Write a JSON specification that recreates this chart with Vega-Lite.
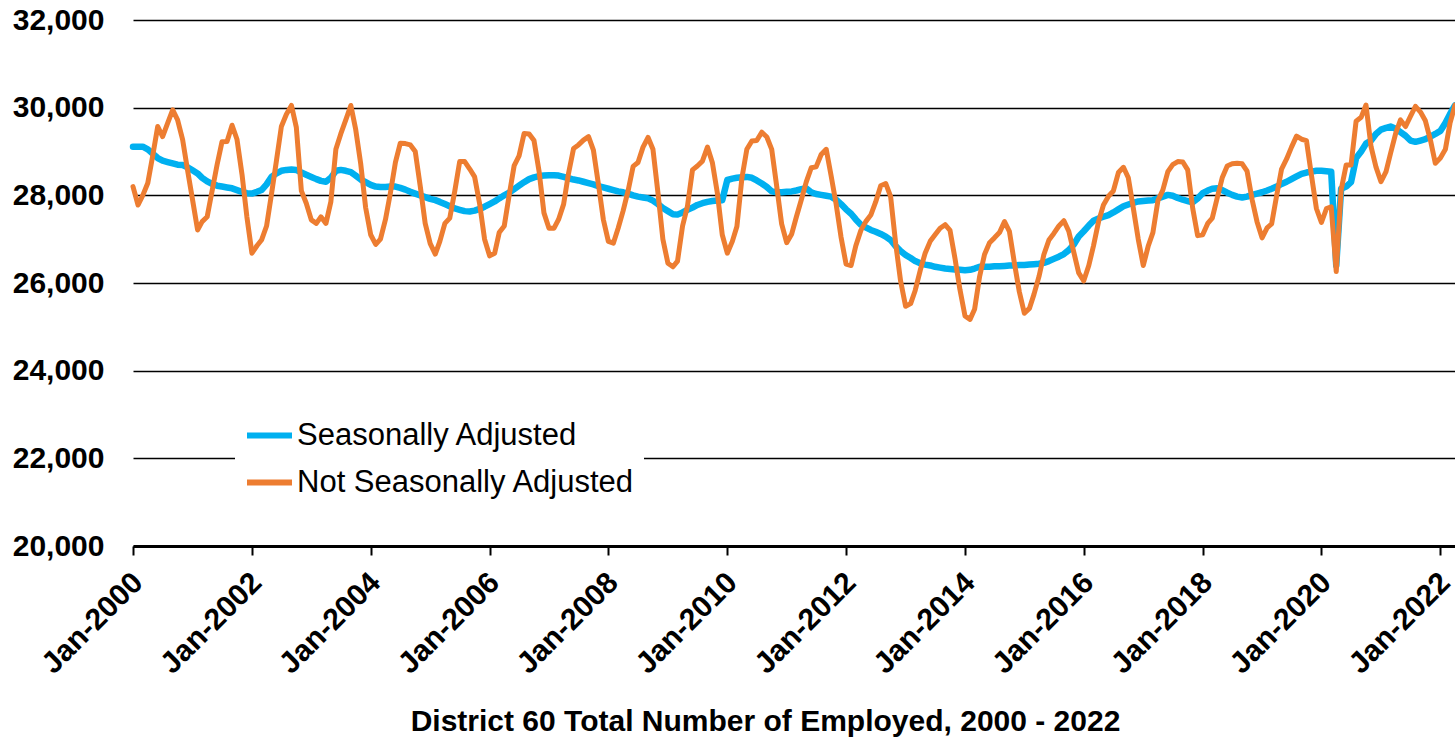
{
"$schema":"https://vega.github.io/schema/vega-lite/v6.json",
"width":1322,"height":526,
"autosize":{"type":"none"},
"padding":{"left":133,"top":20,"right":0,"bottom":192},
"background":"white",
"config":{"view":{"stroke":null},"font":"Liberation Sans"},
"data":{"format":{"parse":{"d":"utc:'%Y-%m'"}},"values":[
{"d":"2000-01","sa":29110,"nsa":28200},{"d":"2000-02","sa":29110,"nsa":27780},{"d":"2000-03","sa":29110,"nsa":28000},{"d":"2000-04","sa":29050,"nsa":28280},{"d":"2000-05","sa":28950,"nsa":28900},{"d":"2000-06","sa":28850,"nsa":29570},{"d":"2000-07","sa":28790,"nsa":29340},{"d":"2000-08","sa":28760,"nsa":29650},{"d":"2000-09","sa":28730,"nsa":29950},{"d":"2000-10","sa":28700,"nsa":29720},{"d":"2000-11","sa":28690,"nsa":29270},{"d":"2000-12","sa":28640,"nsa":28580},
{"d":"2001-01","sa":28570,"nsa":27900},{"d":"2001-02","sa":28500,"nsa":27210},{"d":"2001-03","sa":28400,"nsa":27400},{"d":"2001-04","sa":28320,"nsa":27510},{"d":"2001-05","sa":28260,"nsa":28100},{"d":"2001-06","sa":28220,"nsa":28700},{"d":"2001-07","sa":28200,"nsa":29220},{"d":"2001-08","sa":28180,"nsa":29230},{"d":"2001-09","sa":28160,"nsa":29600},{"d":"2001-10","sa":28120,"nsa":29280},{"d":"2001-11","sa":28080,"nsa":28480},{"d":"2001-12","sa":28050,"nsa":27510},
{"d":"2002-01","sa":28040,"nsa":26680},{"d":"2002-02","sa":28080,"nsa":26850},{"d":"2002-03","sa":28120,"nsa":26980},{"d":"2002-04","sa":28250,"nsa":27300},{"d":"2002-05","sa":28420,"nsa":28020},{"d":"2002-06","sa":28500,"nsa":28800},{"d":"2002-07","sa":28560,"nsa":29570},{"d":"2002-08","sa":28580,"nsa":29850},{"d":"2002-09","sa":28590,"nsa":30050},{"d":"2002-10","sa":28580,"nsa":29550},{"d":"2002-11","sa":28520,"nsa":28100},{"d":"2002-12","sa":28470,"nsa":27820},
{"d":"2003-01","sa":28420,"nsa":27440},{"d":"2003-02","sa":28370,"nsa":27360},{"d":"2003-03","sa":28330,"nsa":27510},{"d":"2003-04","sa":28310,"nsa":27360},{"d":"2003-05","sa":28400,"nsa":27850},{"d":"2003-06","sa":28560,"nsa":29050},{"d":"2003-07","sa":28580,"nsa":29400},{"d":"2003-08","sa":28560,"nsa":29720},{"d":"2003-09","sa":28530,"nsa":30050},{"d":"2003-10","sa":28450,"nsa":29500},{"d":"2003-11","sa":28360,"nsa":28710},{"d":"2003-12","sa":28300,"nsa":27720},
{"d":"2004-01","sa":28240,"nsa":27100},{"d":"2004-02","sa":28200,"nsa":26880},{"d":"2004-03","sa":28190,"nsa":27000},{"d":"2004-04","sa":28190,"nsa":27450},{"d":"2004-05","sa":28200,"nsa":28050},{"d":"2004-06","sa":28200,"nsa":28750},{"d":"2004-07","sa":28170,"nsa":29190},{"d":"2004-08","sa":28130,"nsa":29180},{"d":"2004-09","sa":28080,"nsa":29150},{"d":"2004-10","sa":28040,"nsa":29000},{"d":"2004-11","sa":28000,"nsa":28200},{"d":"2004-12","sa":27960,"nsa":27360},
{"d":"2005-01","sa":27920,"nsa":26900},{"d":"2005-02","sa":27890,"nsa":26660},{"d":"2005-03","sa":27850,"nsa":26950},{"d":"2005-04","sa":27800,"nsa":27360},{"d":"2005-05","sa":27750,"nsa":27480},{"d":"2005-06","sa":27700,"nsa":28100},{"d":"2005-07","sa":27670,"nsa":28770},{"d":"2005-08","sa":27640,"nsa":28770},{"d":"2005-09","sa":27630,"nsa":28600},{"d":"2005-10","sa":27650,"nsa":28420},{"d":"2005-11","sa":27690,"nsa":27800},{"d":"2005-12","sa":27740,"nsa":27000},
{"d":"2006-01","sa":27800,"nsa":26620},{"d":"2006-02","sa":27860,"nsa":26680},{"d":"2006-03","sa":27930,"nsa":27150},{"d":"2006-04","sa":28000,"nsa":27300},{"d":"2006-05","sa":28060,"nsa":28000},{"d":"2006-06","sa":28140,"nsa":28680},{"d":"2006-07","sa":28220,"nsa":28900},{"d":"2006-08","sa":28300,"nsa":29410},{"d":"2006-09","sa":28370,"nsa":29400},{"d":"2006-10","sa":28410,"nsa":29250},{"d":"2006-11","sa":28440,"nsa":28550},{"d":"2006-12","sa":28450,"nsa":27600},
{"d":"2007-01","sa":28460,"nsa":27250},{"d":"2007-02","sa":28460,"nsa":27250},{"d":"2007-03","sa":28450,"nsa":27450},{"d":"2007-04","sa":28420,"nsa":27800},{"d":"2007-05","sa":28390,"nsa":28500},{"d":"2007-06","sa":28360,"nsa":29070},{"d":"2007-07","sa":28340,"nsa":29150},{"d":"2007-08","sa":28310,"nsa":29260},{"d":"2007-09","sa":28280,"nsa":29340},{"d":"2007-10","sa":28250,"nsa":29030},{"d":"2007-11","sa":28210,"nsa":28250},{"d":"2007-12","sa":28180,"nsa":27450},
{"d":"2008-01","sa":28150,"nsa":26950},{"d":"2008-02","sa":28120,"nsa":26910},{"d":"2008-03","sa":28090,"nsa":27250},{"d":"2008-04","sa":28070,"nsa":27650},{"d":"2008-05","sa":28040,"nsa":28100},{"d":"2008-06","sa":28000,"nsa":28660},{"d":"2008-07","sa":27970,"nsa":28750},{"d":"2008-08","sa":27950,"nsa":29100},{"d":"2008-09","sa":27930,"nsa":29320},{"d":"2008-10","sa":27880,"nsa":29050},{"d":"2008-11","sa":27800,"nsa":28050},{"d":"2008-12","sa":27710,"nsa":27000},
{"d":"2009-01","sa":27640,"nsa":26450},{"d":"2009-02","sa":27570,"nsa":26370},{"d":"2009-03","sa":27560,"nsa":26500},{"d":"2009-04","sa":27610,"nsa":27300},{"d":"2009-05","sa":27670,"nsa":27750},{"d":"2009-06","sa":27720,"nsa":28580},{"d":"2009-07","sa":27780,"nsa":28670},{"d":"2009-08","sa":27820,"nsa":28780},{"d":"2009-09","sa":27850,"nsa":29100},{"d":"2009-10","sa":27870,"nsa":28750},{"d":"2009-11","sa":27880,"nsa":28050},{"d":"2009-12","sa":27890,"nsa":27100},
{"d":"2010-01","sa":28350,"nsa":26680},{"d":"2010-02","sa":28380,"nsa":26950},{"d":"2010-03","sa":28400,"nsa":27290},{"d":"2010-04","sa":28410,"nsa":28400},{"d":"2010-05","sa":28420,"nsa":29050},{"d":"2010-06","sa":28400,"nsa":29240},{"d":"2010-07","sa":28340,"nsa":29250},{"d":"2010-08","sa":28270,"nsa":29440},{"d":"2010-09","sa":28190,"nsa":29330},{"d":"2010-10","sa":28090,"nsa":29050},{"d":"2010-11","sa":28070,"nsa":28200},{"d":"2010-12","sa":28070,"nsa":27350},
{"d":"2011-01","sa":28080,"nsa":26920},{"d":"2011-02","sa":28090,"nsa":27120},{"d":"2011-03","sa":28110,"nsa":27500},{"d":"2011-04","sa":28140,"nsa":27900},{"d":"2011-05","sa":28160,"nsa":28300},{"d":"2011-06","sa":28070,"nsa":28630},{"d":"2011-07","sa":28030,"nsa":28650},{"d":"2011-08","sa":28010,"nsa":28930},{"d":"2011-09","sa":27990,"nsa":29050},{"d":"2011-10","sa":27970,"nsa":28450},{"d":"2011-11","sa":27900,"nsa":27800},{"d":"2011-12","sa":27800,"nsa":27050},
{"d":"2012-01","sa":27680,"nsa":26430},{"d":"2012-02","sa":27580,"nsa":26400},{"d":"2012-03","sa":27450,"nsa":26850},{"d":"2012-04","sa":27330,"nsa":27200},{"d":"2012-05","sa":27270,"nsa":27400},{"d":"2012-06","sa":27210,"nsa":27550},{"d":"2012-07","sa":27170,"nsa":27850},{"d":"2012-08","sa":27120,"nsa":28220},{"d":"2012-09","sa":27060,"nsa":28270},{"d":"2012-10","sa":26980,"nsa":27970},{"d":"2012-11","sa":26840,"nsa":26900},{"d":"2012-12","sa":26730,"nsa":26050},
{"d":"2013-01","sa":26640,"nsa":25470},{"d":"2013-02","sa":26570,"nsa":25530},{"d":"2013-03","sa":26500,"nsa":25830},{"d":"2013-04","sa":26450,"nsa":26290},{"d":"2013-05","sa":26420,"nsa":26680},{"d":"2013-06","sa":26400,"nsa":26950},{"d":"2013-07","sa":26370,"nsa":27100},{"d":"2013-08","sa":26350,"nsa":27250},{"d":"2013-09","sa":26330,"nsa":27330},{"d":"2013-10","sa":26320,"nsa":27200},{"d":"2013-11","sa":26310,"nsa":26550},{"d":"2013-12","sa":26300,"nsa":25850},
{"d":"2014-01","sa":26290,"nsa":25250},{"d":"2014-02","sa":26300,"nsa":25170},{"d":"2014-03","sa":26330,"nsa":25400},{"d":"2014-04","sa":26370,"nsa":26150},{"d":"2014-05","sa":26370,"nsa":26650},{"d":"2014-06","sa":26370,"nsa":26920},{"d":"2014-07","sa":26380,"nsa":27030},{"d":"2014-08","sa":26380,"nsa":27150},{"d":"2014-09","sa":26390,"nsa":27400},{"d":"2014-10","sa":26400,"nsa":27180},{"d":"2014-11","sa":26400,"nsa":26450},{"d":"2014-12","sa":26410,"nsa":25800},
{"d":"2015-01","sa":26410,"nsa":25310},{"d":"2015-02","sa":26420,"nsa":25420},{"d":"2015-03","sa":26430,"nsa":25740},{"d":"2015-04","sa":26440,"nsa":26150},{"d":"2015-05","sa":26460,"nsa":26650},{"d":"2015-06","sa":26500,"nsa":26980},{"d":"2015-07","sa":26550,"nsa":27130},{"d":"2015-08","sa":26600,"nsa":27300},{"d":"2015-09","sa":26660,"nsa":27420},{"d":"2015-10","sa":26750,"nsa":27180},{"d":"2015-11","sa":26880,"nsa":26700},{"d":"2015-12","sa":27060,"nsa":26230},
{"d":"2016-01","sa":27180,"nsa":26050},{"d":"2016-02","sa":27310,"nsa":26400},{"d":"2016-03","sa":27420,"nsa":26850},{"d":"2016-04","sa":27470,"nsa":27400},{"d":"2016-05","sa":27510,"nsa":27780},{"d":"2016-06","sa":27550,"nsa":27980},{"d":"2016-07","sa":27610,"nsa":28100},{"d":"2016-08","sa":27680,"nsa":28520},{"d":"2016-09","sa":27750,"nsa":28640},{"d":"2016-10","sa":27790,"nsa":28400},{"d":"2016-11","sa":27830,"nsa":27700},{"d":"2016-12","sa":27860,"nsa":27000},
{"d":"2017-01","sa":27870,"nsa":26400},{"d":"2017-02","sa":27880,"nsa":26850},{"d":"2017-03","sa":27890,"nsa":27150},{"d":"2017-04","sa":27930,"nsa":27880},{"d":"2017-05","sa":27970,"nsa":28120},{"d":"2017-06","sa":28010,"nsa":28540},{"d":"2017-07","sa":27990,"nsa":28700},{"d":"2017-08","sa":27940,"nsa":28770},{"d":"2017-09","sa":27900,"nsa":28760},{"d":"2017-10","sa":27870,"nsa":28580},{"d":"2017-11","sa":27840,"nsa":27700},{"d":"2017-12","sa":27930,"nsa":27080},
{"d":"2018-01","sa":28050,"nsa":27100},{"d":"2018-02","sa":28110,"nsa":27360},{"d":"2018-03","sa":28150,"nsa":27480},{"d":"2018-04","sa":28160,"nsa":27950},{"d":"2018-05","sa":28120,"nsa":28400},{"d":"2018-06","sa":28060,"nsa":28670},{"d":"2018-07","sa":28010,"nsa":28720},{"d":"2018-08","sa":27970,"nsa":28730},{"d":"2018-09","sa":27950,"nsa":28720},{"d":"2018-10","sa":27970,"nsa":28550},{"d":"2018-11","sa":28010,"nsa":27900},{"d":"2018-12","sa":28040,"nsa":27400},
{"d":"2019-01","sa":28070,"nsa":27030},{"d":"2019-02","sa":28110,"nsa":27260},{"d":"2019-03","sa":28150,"nsa":27350},{"d":"2019-04","sa":28200,"nsa":28000},{"d":"2019-05","sa":28260,"nsa":28600},{"d":"2019-06","sa":28310,"nsa":28830},{"d":"2019-07","sa":28370,"nsa":29100},{"d":"2019-08","sa":28430,"nsa":29350},{"d":"2019-09","sa":28490,"nsa":29280},{"d":"2019-10","sa":28520,"nsa":29250},{"d":"2019-11","sa":28540,"nsa":28450},{"d":"2019-12","sa":28560,"nsa":27700},
{"d":"2020-01","sa":28560,"nsa":27380},{"d":"2020-02","sa":28550,"nsa":27700},{"d":"2020-03","sa":28540,"nsa":27740},{"d":"2020-04","sa":26400,"nsa":26260},{"d":"2020-05","sa":28150,"nsa":28120},{"d":"2020-06","sa":28200,"nsa":28690},{"d":"2020-07","sa":28300,"nsa":28690},{"d":"2020-08","sa":28850,"nsa":29690},{"d":"2020-09","sa":29000,"nsa":29780},{"d":"2020-10","sa":29180,"nsa":30060},{"d":"2020-11","sa":29250,"nsa":29110},{"d":"2020-12","sa":29400,"nsa":28650},
{"d":"2021-01","sa":29500,"nsa":28310},{"d":"2021-02","sa":29540,"nsa":28540},{"d":"2021-03","sa":29570,"nsa":28960},{"d":"2021-04","sa":29520,"nsa":29410},{"d":"2021-05","sa":29440,"nsa":29720},{"d":"2021-06","sa":29360,"nsa":29570},{"d":"2021-07","sa":29250,"nsa":29800},{"d":"2021-08","sa":29220,"nsa":30030},{"d":"2021-09","sa":29250,"nsa":29900},{"d":"2021-10","sa":29280,"nsa":29700},{"d":"2021-11","sa":29340,"nsa":29260},{"d":"2021-12","sa":29400,"nsa":28730},
{"d":"2022-01","sa":29470,"nsa":28850},{"d":"2022-02","sa":29650,"nsa":29050},{"d":"2022-03","sa":29850,"nsa":29640},{"d":"2022-04","sa":30050,"nsa":30060}
]},
"transform":[{"fold":["sa","nsa"],"as":["series","value"]}],
"encoding":{
 "x":{"field":"d","type":"temporal","scale":{"type":"utc","nice":false},
  "axis":{"format":"%b-%Y","tickCount":{"interval":"year","step":2},
   "labelAngle":-45,"labelAlign":"right","labelBaseline":"top","labelPadding":12,"labelOffset":-6,
   "labelFont":"Liberation Sans","labelFontWeight":"bold","labelFontSize":30,"labelColor":"black",
   "labelOverlap":false,"labelFlush":false,"labelBound":false,
   "domainColor":"black","domainWidth":3,"tickColor":"black","tickWidth":2,"tickSize":9,"grid":false,
   "title":"District 60 Total Number of Employed, 2000 - 2022","titleFont":"Liberation Sans","titleFontSize":30,"titleFontWeight":"bold","titleColor":"black",
   "titleX":632,"titleY":184,"titleAlign":"center","titleBaseline":"alphabetic","titleAnchor":null}},
 "y":{"field":"value","type":"quantitative","scale":{"domain":[20000,32000],"nice":false,"zero":false},
  "axis":{"values":[20000,22000,24000,26000,28000,30000,32000],"format":",.0f","domain":false,"ticks":false,"tickSize":0,"labelPadding":29,
   "labelFont":"Liberation Sans","labelFontWeight":"bold","labelFontSize":30,"labelColor":"black",
   "gridColor":"black","gridWidth":1.3,"gridOpacity":1,"title":null}},
 "color":{"field":"series","type":"nominal","scale":{"domain":["sa","nsa"],"range":["#00B0F0","#ED7D31"]},
  "legend":{"orient":"none","legendX":102,"legendY":381,"title":null,"fillColor":"white","padding":9,
   "symbolType":"stroke","symbolSize":2025,"symbolStrokeWidth":6,"labelFont":"Liberation Sans","labelFontSize":31,"labelColor":"black",
   "labelOffset":2,"rowPadding":6,"labelLimit":600,
   "labelExpr":"datum.label == 'sa' ? 'Seasonally Adjusted' : 'Not Seasonally Adjusted'"}}
},
"layer":[
 {"transform":[{"filter":"datum.series == 'sa'"}],"mark":{"type":"line","strokeWidth":6.5,"strokeJoin":"round","strokeCap":"round"}},
 {"transform":[{"filter":"datum.series == 'nsa'"}],"mark":{"type":"line","strokeWidth":5,"strokeJoin":"round","strokeCap":"round"}}
]
}
